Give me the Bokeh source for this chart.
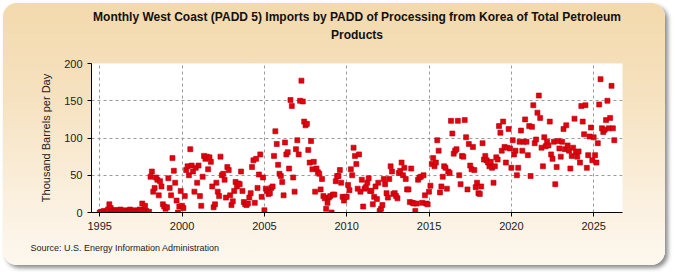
from bokeh.plotting import figure
from bokeh.models import Range1d, FixedTicker, ColumnDataSource, Title
from bokeh.embed import file_html
from bokeh.resources import INLINE

# Monthly imports, thousand barrels per day, starting January 1995
kbd_1995_2004 = [
    0, 1, 0, 2, 0, 1, 4, 11, 6, 2, 0, 3,
    3, 2, 0, 4, 1, 0, 3, 2, 0, 1, 4, 2,
    0, 3, 1, 0, 2, 4, 1, 12, 4, 9, 2, 0,
    1, 48, 55, 28, 33, 47, 44, 23, 42, 35, 11, 8,
    5, 7, 46, 33, 23, 73, 56, 40, 16, 0, 8, 29,
    9, 6, 22, 57, 62, 50, 85, 63, 55, 28, 60, 40,
    63, 22, 9, 48, 76, 72, 75, 58, 74, 68, 35, 7,
    11, 40, 28, 22, 75, 50, 52, 44, 20, 61, 57, 23,
    10, 15, 29, 41, 35, 39, 38, 55, 29, 14, 11, 10,
    12, 20, 26, 61, 70, 13, 72, 33, 51, 78, 21, 47,
]
kbd_2005_2014 = [
    3, 32, 29, 25, 26, 33, 35, 76, 109, 92, 64, 52,
    49, 41, 23, 94, 78, 81, 59, 151, 143, 47, 28, 85,
    97, 78, 150, 177, 149, 122, 117, 119, 84, 67, 96, 58,
    68, 28, 59, 54, 52, 31, 45, 22, 19, 5, 13, 20,
    22, 0, 24, 24, 42, 49, 49, 57, 40, 21, 16, 21,
    21, 37, 30, 58, 50, 87, 76, 65, 32, 78, 28, 44,
    8, 32, 34, 40, 46, 29, 29, 11, 21, 35, 18, 40,
    2, 5, 10, 45, 38, 26, 20, 45, 62, 55, 25, 26,
    22, 19, 53, 56, 67, 50, 60, 45, 31, 31, 14, 59,
    13, 12, 2, 12, 44, 47, 48, 13, 50, 23, 12, 11,
]
kbd_2015_2026 = [
    28, 36, 65, 73, 62, 67, 97, 83, 27, 35, 48, 62,
    60, 32, 55, 53, 123, 106, 79, 83, 85, 123, 50, 38,
    76, 75, 124, 101, 31, 92, 63, 58, 88, 57, 34, 40,
    26, 25, 35, 93, 71, 76, 70, 67, 62, 68, 60, 40,
    62, 74, 71, 116, 107, 83, 122, 88, 67, 87, 112, 86,
    60, 97, 78, 83, 50, 60, 95, 110, 83, 95, 125, 95,
    77, 116, 49, 115, 144, 93, 98, 134, 157, 127, 87, 62,
    101, 89, 95, 90, 122, 78, 72, 95, 38, 61, 96, 86,
    75, 95, 112, 85, 117, 90, 83, 59, 76, 87, 126, 81,
    75, 82, 67, 143, 122, 105, 144, 60, 77, 102, 114, 70,
    101, 77, 67, 93, 145, 179, 113, 108, 111, 124, 150, 113,
    127, 170, 113, 97,
]
start_year = 1995
year_ticks = [1995, 2000, 2005, 2010, 2015, 2020, 2025]
value_ticks = [0, 50, 100, 150, 200]

values = kbd_1995_2004 + kbd_2005_2014 + kbd_2015_2026
dates = [start_year + i / 12 for i in range(len(values))]
src = ColumnDataSource(dict(date=dates, kbd=values))

FONT = "Liberation Sans"

p = figure(
    width=662, height=262, margin=(3, 0, 0, 3),
    output_backend="svg", toolbar_location=None,
    x_range=Range1d(1994.5, 2026.75), y_range=Range1d(0, 200),
    min_border_left=88, min_border_right=43,
    min_border_top=60, min_border_bottom=53,
)
p.styles = {
    "background": "linear-gradient(to bottom, #F3D9AC 0%, #F6E3C2 40%, #FBF0DF 75%, #FDF7EE 100%)",
    "border-radius": "14px",
    "box-shadow": "3px 3px 4px #8c8c8c",
}
p.border_fill_color = None
p.background_fill_color = "white"
p.outline_line_color = None

p.scatter("date", "kbd", source=src, marker="square", size=5,
          fill_color="#E5000E", line_color="#B0000A", line_width=0.6)

for ax in (p.xaxis, p.yaxis):
    ax.axis_line_color = "black"
    ax.major_tick_line_color = "black"
    ax.major_tick_out = 4
    ax.major_tick_in = 0
    ax.minor_tick_line_color = None
    ax.major_label_text_font = FONT
    ax.major_label_text_font_size = "11px"
    ax.major_label_text_color = "#222222"

p.xaxis.ticker = FixedTicker(ticks=year_ticks)
p.yaxis.ticker = FixedTicker(ticks=value_ticks)
p.yaxis.axis_label = "Thousand Barrels per Day"
p.yaxis.axis_label_standoff = 9
p.yaxis.axis_label_text_font = FONT
p.yaxis.axis_label_text_font_size = "11px"
p.yaxis.axis_label_text_font_style = "normal"
p.yaxis.axis_label_text_color = "#222222"

p.xgrid.ticker = FixedTicker(ticks=year_ticks)
p.ygrid.ticker = FixedTicker(ticks=value_ticks)
for g in (p.xgrid, p.ygrid):
    g.grid_line_color = "#9A9A9A"
    g.grid_line_dash = "3 3"
    g.grid_line_width = 1

# Title panels stack outward from the frame: a blank spacer, then the two lines
title_style = dict(align="center", text_font=FONT, text_font_size="12px",
                   text_font_style="bold", text_color="#111111")
p.add_layout(Title(text=" ", standoff=17, align="center", text_font_size="1px"), "above")
p.add_layout(Title(text="Products", standoff=4, **title_style), "above")
p.add_layout(Title(
    text="Monthly West Coast (PADD 5) Imports by PADD of Processing from Korea of Total Petroleum",
    standoff=0, **title_style,
), "above")

p.add_layout(Title(
    text="Source: U.S. Energy Information Administration",
    align="left", offset=-61, standoff=20, vertical_align="top",
    text_font=FONT, text_font_size="9px", text_font_style="normal",
    text_color="#222222",
), "below")

open("out.html", "w").write(file_html(p, INLINE))
